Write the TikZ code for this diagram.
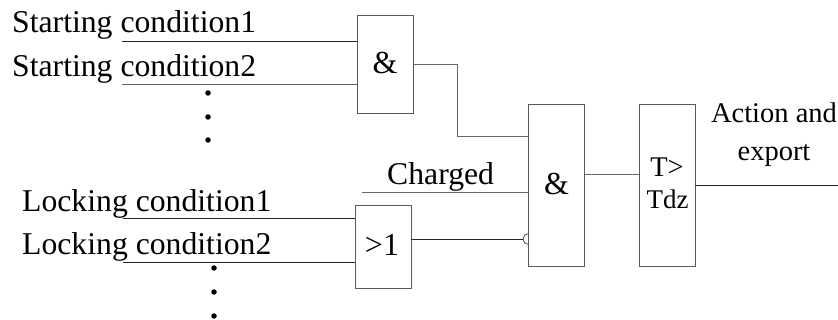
\documentclass[tikz,border=0pt]{standalone}
\usepackage{fontspec}
\setmainfont{Liberation Serif}
\begin{document}
\begin{tikzpicture}[x=1pt,y=-1pt,
  gate/.style={draw=black!65,line width=0.9pt,fill=white,inner sep=0pt,minimum width=56pt},
  wire/.style={draw=black!85,line width=0.9pt},
  graywire/.style={draw=black!60,line width=1pt},
  bubble/.style={circle,draw=black!70,line width=0.8pt,fill=white,inner sep=0pt,minimum size=11pt},
  lab/.style={anchor=base west,inner sep=0pt,font=\fontsize{31.7}{34}\selectfont},
  gatetext/.style={anchor=base,inner sep=0pt,font=\fontsize{32}{34}\selectfont},
  small/.style={anchor=base,inner sep=0pt,font=\fontsize{27}{30}\selectfont},
  action/.style={anchor=base,inner sep=0pt,font=\fontsize{28.5}{30}\selectfont},
  dotmark/.style={circle,fill=black,inner sep=0pt,minimum size=5.5pt}]
\useasboundingbox (0,0) rectangle (838,320);
% inverting input, half hidden by the gate drawn after it
\node[bubble] (bub) at (528.5,239) {};
% gates
\node[gate,minimum height=98pt] (and1) at (385,64) {};
\node[gate,minimum height=83pt] (or1) at (383,246.5) {};
\node[gate,minimum height=162pt] (and2) at (556.5,185) {};
\node[gate,minimum height=162pt] (timer) at (667,185) {};
% gate texts
\node[gatetext] (and1t) at (385,74) {\&};
\node[gatetext] (or1t) at (382,256) {>1};
\node[gatetext] (and2t) at (556.5,195) {\&};
\node[action] (tgt) at (667,177) {T>};
\node[small] (tdz) at (667.5,209) {Tdz};
% labels
\node[lab] (s1) at (12,33) {Starting condition1};
\node[lab] (s2) at (12,77) {Starting condition2};
\node[lab] (l1) at (22,212) {Locking condition1};
\node[lab] (l2) at (22,255) {Locking condition2};
\node[lab] (ch) at (387,185) {Charged};
\node[action] (act) at (774,123) {Action and};
\node[action] (exp) at (774,161) {export};
% free wire ends
\coordinate (s1e) at (122,41);
\coordinate (s2e) at (122,85);
\coordinate (l1e) at (123,218);
\coordinate (l2e) at (123,262);
\coordinate (che) at (362,193);
\coordinate (oute) at (838,185);
\coordinate (bend1) at (457,65);
\coordinate (bend2) at (457,137);
\coordinate (tin) at (585,175);
% wires
\draw[wire] (s1e) -- (s1e -| and1.west);
\draw[graywire] (s2e) -- (s2e -| and1.west);
\draw[wire] (l1e) -- (l1e -| or1.west);
\draw[wire] (l2e) -- (l2e -| or1.west);
\draw[graywire] (che) -- (che -| and2.west);
\draw[graywire] (bend1 -| and1.east) -- (bend1) -- (bend2) -- (bend2 -| and2.west);
\draw[graywire] (tin -| and2.east) -- (tin -| timer.west);
\draw[wire] (oute -| timer.east) -- (oute);
\draw[wire] (bub.west -| or1.east) -- (bub.west);
% dots
\foreach \n/\x/\y in {a/208/93,b/208/117,c/208/140,d/214/268,e/214/292,f/214/316}
  \node[dotmark] (dot\n) at (\x,\y) {};
\end{tikzpicture}
\end{document}
